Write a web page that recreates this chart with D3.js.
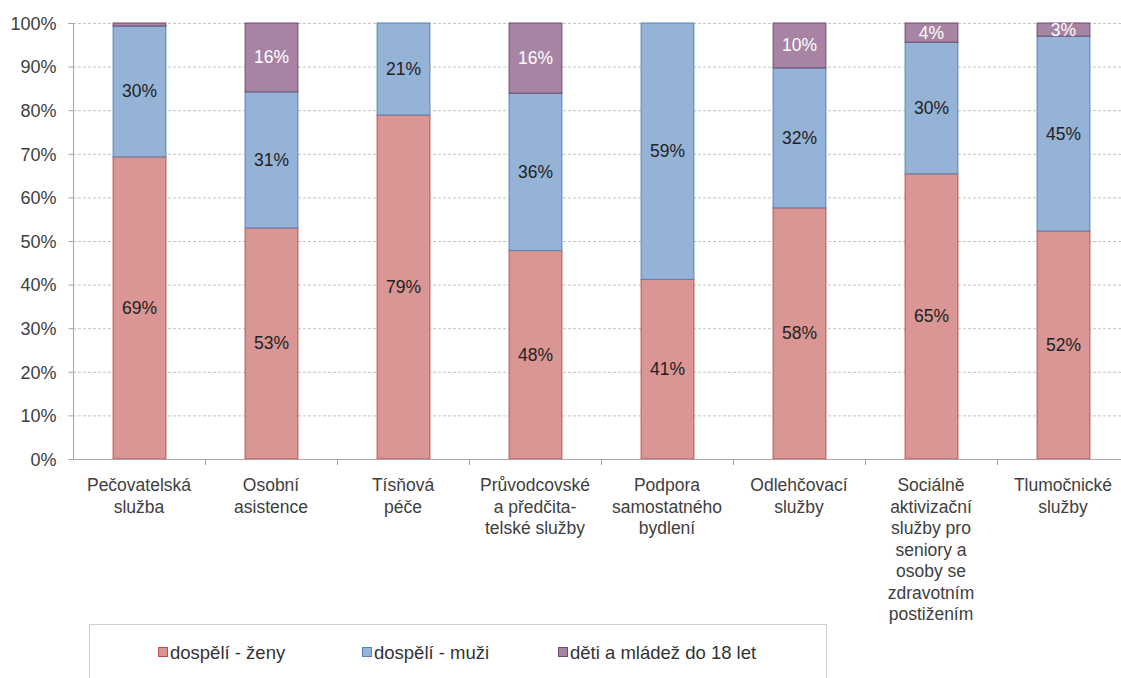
<!DOCTYPE html>
<html>
<head>
<meta charset="utf-8">
<script src="https://cdn.jsdelivr.net/npm/d3@7"></script>
<style>
  body { margin: 0; background: #fff; }
  svg { display: block; font-family: "Liberation Sans", Arial, sans-serif; }
</style>
</head>
<body>
<svg id="chart" width="1121" height="678"></svg>
<script>
// categories (x axis), each label split into lines
var categories = [
  ["Pečovatelská", "služba"],
  ["Osobní", "asistence"],
  ["Tísňová", "péče"],
  ["Průvodcovské", "a předčita-", "telské služby"],
  ["Podpora", "samostatného", "bydlení"],
  ["Odlehčovací", "služby"],
  ["Sociálně", "aktivizační", "služby pro", "seniory a", "osoby se", "zdravotním", "postižením"],
  ["Tlumočnické", "služby"]
];
var seriesNames = ["dospělí - ženy", "dospělí - muži", "děti a mládež do 18 let"];
var zeny = [69.3, 53.0, 78.9, 47.8, 41.2, 57.6, 65.4, 52.3];
var muzi = [30.0, 31.2, 21.1, 36.1, 58.8, 32.1, 30.2, 44.7];
var deti = [0.7, 15.8, 0, 16.1, 0, 10.3, 4.4, 3.0];
var yTicks = [0, 10, 20, 30, 40, 50, 60, 70, 80, 90, 100];

var fills = ["#d99694", "#95b3d7", "#a884a4"];
var strokes = ["#b9514f", "#5b80b4", "#6e4b6b"];
var labelColors = ["#222", "#222", "#fff"];

var svg = d3.select("#chart");
var plotLeft = 73, plotTop = 23, plotBottom = 459;
var fs = 17.5;

var x = d3.scaleBand().domain(d3.range(categories.length)).range([plotLeft, plotLeft + 8 * 132]).paddingInner(0.6).paddingOuter(0.3);
var y = d3.scaleLinear().domain([0, 100]).range([plotBottom, plotTop]);

// gridlines
svg.append("g").selectAll("line").data(yTicks.slice(1)).join("line")
  .attr("x1", plotLeft).attr("x2", 1121)
  .attr("y1", function(d){ return y(d) + 0.5; }).attr("y2", function(d){ return y(d) + 0.5; })
  .attr("stroke", "#c4c4c4").attr("stroke-dasharray", "3,2").attr("stroke-width", 1);

// stacked data
var rows = categories.map(function(c, i){ return {i: i, v: [zeny[i], muzi[i], deti[i]]}; });
var stack = d3.stack().keys([0, 1, 2]).value(function(d, k){ return d.v[k]; });
var layers = stack(rows);

var gBars = svg.append("g");
layers.forEach(function(layer, k){
  gBars.append("g").selectAll("rect").data(layer).join("rect")
    .attr("x", function(d, i){ return x(i) + 0.5; })
    .attr("width", x.bandwidth())
    .attr("y", function(d){ return y(d[1]); })
    .attr("height", function(d){ return y(d[0]) - y(d[1]); })
    .attr("fill", fills[k])
    .attr("stroke", function(d){ return d[1] - d[0] > 0 ? strokes[k] : "none"; })
    .attr("stroke-width", 1);
});
layers.forEach(function(layer, k){
  gBars.append("g").selectAll("text").data(layer.filter(function(d){ return d[1] - d[0] >= 2; })).join("text")
    .attr("x", function(d){ return x(d.data.i) + x.bandwidth() / 2 + 0.5; })
    .attr("y", function(d){ return y((d[0] + d[1]) / 2) + 6; })
    .attr("text-anchor", "middle")
    .attr("font-size", fs)
    .attr("fill", labelColors[k])
    .text(function(d){ return Math.round(d[1] - d[0]) + "%"; });
});

// y axis
var yAxis = d3.axisLeft(y).tickValues(yTicks).tickSize(5).tickFormat(function(d){ return d + "%"; });
var gy = svg.append("g").attr("transform", "translate(" + (plotLeft + 0.5) + ",0)").call(yAxis);
gy.select(".domain").attr("stroke", "#a6a6a6").attr("d", "M-5," + (plotTop + 0.5) + "H0V" + (plotBottom + 0.5) + "H-5");
gy.selectAll(".tick line").attr("stroke", "#a6a6a6");
gy.selectAll(".tick text").attr("font-size", 18).attr("fill", "#404040").attr("x", -17).attr("dy", "0.35em")
  .attr("font-family", "Liberation Sans, Arial, sans-serif");

// x axis
svg.append("line").attr("x1", plotLeft).attr("x2", 1121).attr("y1", plotBottom + 0.5).attr("y2", plotBottom + 0.5)
  .attr("stroke", "#a6a6a6");
svg.append("g").selectAll("line").data(d3.range(1, categories.length + 1)).join("line")
  .attr("x1", function(d){ return plotLeft + d * 132 + 0.5; }).attr("x2", function(d){ return plotLeft + d * 132 + 0.5; })
  .attr("y1", plotBottom).attr("y2", plotBottom + 6)
  .attr("stroke", "#a6a6a6");

var gx = svg.append("g");
categories.forEach(function(lines, i){
  var t = gx.append("text")
    .attr("x", x(i) + x.bandwidth() / 2)
    .attr("y", plotBottom + 32)
    .attr("text-anchor", "middle")
    .attr("font-size", fs)
    .attr("fill", "#404040");
  lines.forEach(function(line, j){
    t.append("tspan").attr("x", x(i) + x.bandwidth() / 2).attr("dy", j === 0 ? 0 : 21.5).text(line);
  });
});

// legend
svg.append("rect").attr("x", 89.5).attr("y", 624.5).attr("width", 737).attr("height", 70)
  .attr("fill", "#fff").attr("stroke", "#d0d0d0");
var legendX = [158, 362, 558];
seriesNames.forEach(function(name, k){
  svg.append("rect").attr("x", legendX[k] + 0.5).attr("y", 647.5).attr("width", 9).attr("height", 9)
    .attr("fill", fills[k]).attr("stroke", strokes[k]);
  svg.append("text").attr("x", legendX[k] + 12).attr("y", 659)
    .attr("font-size", 18.5).attr("fill", "#333").text(name);
});
</script>
</body>
</html>
